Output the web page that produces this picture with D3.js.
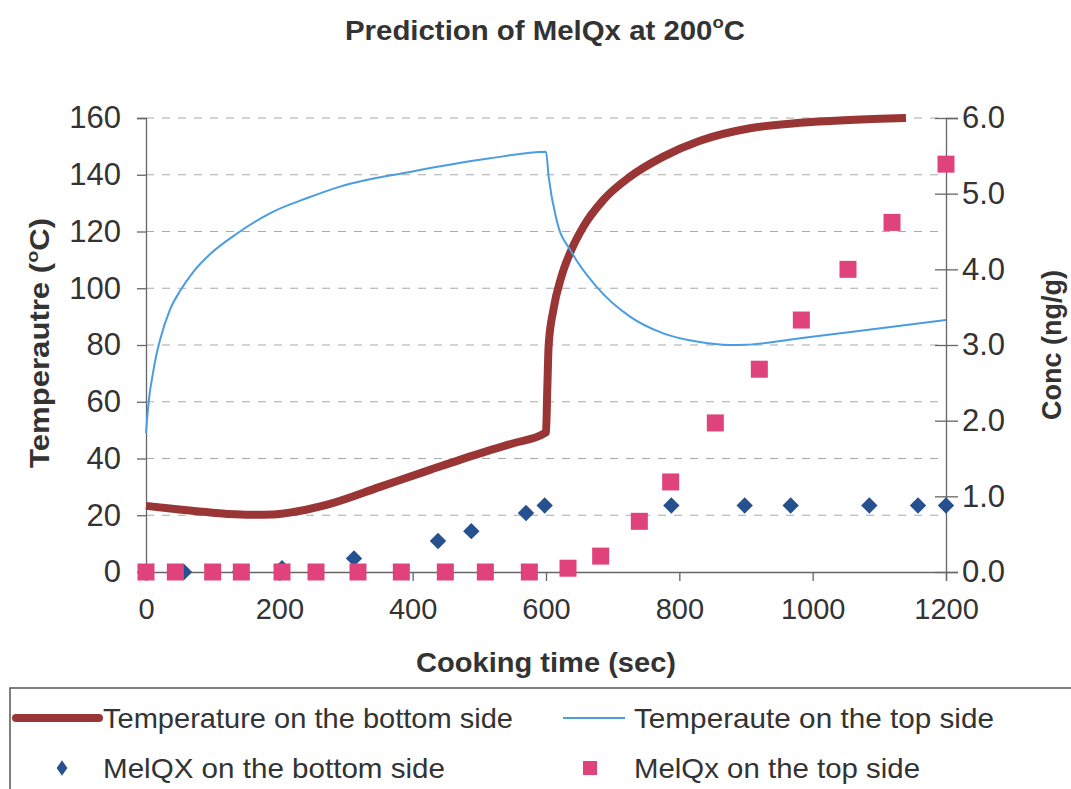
<!DOCTYPE html>
<html>
<head>
<meta charset="utf-8">
<script src="https://cdn.jsdelivr.net/npm/d3@7"></script>
<style>
  body { margin: 0; background: #fff; }
  svg { display: block; font-family: "Liberation Sans", Arial, sans-serif; }
</style>
</head>
<body>
<svg id="chart" width="1071" height="789"></svg>
<script>
// temperature curves: [time (sec), temperature (°C)]
const bottomTemp = [
    [0, 23.3], [50, 22], [100, 20.9], [150, 20.2], [190, 20.3], [230, 21.5],
    [276, 24], [351, 30], [426, 36], [501, 41.8], [550, 45.3], [598, 48.9],
    [600, 49.3], [602, 65], [604, 80], [611, 92.3], [623, 104], [638, 113.5],
    [656, 121.7], [686, 131.1], [726, 139.3], [776, 146.4], [831, 152],
    [906, 156.4], [981, 158.3], [1056, 159.3], [1140, 160]
];
const topTemp = [
    [0, 49], [2, 55], [5, 62], [10, 69.5], [16, 77], [21, 81.8], [36, 92.5],
    [51, 99], [71, 105.8], [96, 112], [136, 119.2], [191, 127], [241, 131.7],
    [291, 135.8], [396, 141], [516, 145.8], [600, 148.1], [604, 139.3],
    [616, 124], [638, 112.9], [676, 100.5], [726, 90], [776, 84.1], [826, 81.2],
    [876, 80], [900, 80.1], [981, 82.4], [1081, 85.3], [1200, 88.8]
];

// MeIQx concentration: [time (sec), conc (ng/g)]
const bottomConc = [
    [0, 0], [57, 0], [141, 0], [204, 0.05], [312, 0.18], [438, 0.41],
    [488, 0.54], [570, 0.78], [598, 0.88], [788, 0.88], [898, 0.88],
    [967, 0.88], [1085, 0.88], [1158, 0.88], [1200, 0.88]
];
const topConc = [
    [0, 0], [44, 0], [100, 0], [143, 0], [204, 0], [255, 0], [318, 0],
    [383, 0], [449, 0], [509, 0], [575, 0], [633, 0.05], [682, 0.21],
    [740, 0.67], [787, 1.19], [854, 1.97], [920, 2.68], [983, 3.33],
    [1053, 4.0], [1119, 4.62], [1200, 5.39]
];

const xTicks = [0, 200, 400, 600, 800, 1000, 1200];
const tempTicks = [0, 20, 40, 60, 80, 100, 120, 140, 160];
const concTicks = [0, 1, 2, 3, 4, 5, 6];

const COLORS = {
    bottomLine: '#993535',
    topLine: '#4a9de0',
    diamond: '#27508f',
    square: '#e0437b',
    text: '#333333',
    axis: '#666666',
    grid: '#aaaaaa'
};

const svg = d3.select('#chart');
const margin = { left: 146, right: 125, top: 118, bottom: 217 };
const width = 1071 - margin.left - margin.right;
const height = 789 - margin.top - margin.bottom;

const x = d3.scaleLinear().domain([0, 1200]).range([margin.left, margin.left + width]);
const yT = d3.scaleLinear().domain([0, 160]).range([margin.top + height, margin.top]);
const yC = d3.scaleLinear().domain([0, 6]).range([margin.top + height, margin.top]);

// title
const title = svg.append('text')
    .attr('x', 545)
    .attr('y', 40)
    .attr('text-anchor', 'middle')
    .attr('font-size', 27)
    .attr('font-weight', 'bold')
    .attr('fill', COLORS.text)
    .attr('textLength', 400)
    .attr('lengthAdjust', 'spacingAndGlyphs');
title.append('tspan').text('Prediction of MelQx at 200');
title.append('tspan').attr('font-size', 17).attr('dy', -12).text('o');
title.append('tspan').attr('dy', 12).text('C');

// gridlines (dashed, one per temperature tick)
svg.append('g')
    .selectAll('line')
    .data(tempTicks.filter(d => d > 0))
    .join('line')
    .attr('x1', x(0))
    .attr('x2', x(1200))
    .attr('y1', d => yT(d))
    .attr('y2', d => yT(d))
    .attr('stroke', COLORS.grid)
    .attr('stroke-width', 1.2)
    .attr('stroke-dasharray', '8,8');

const styleTicks = (g, size) => {
    g.select('.domain').attr('stroke', COLORS.axis).attr('stroke-width', 1.3);
    g.selectAll('.tick line').attr('stroke', COLORS.axis).attr('stroke-width', 1.3);
    g.selectAll('.tick text')
        .attr('font-size', size)
        .attr('fill', COLORS.text)
        .attr('font-family', '"Liberation Sans", Arial, sans-serif');
};

// left axis
const leftAxis = svg.append('g')
    .attr('transform', `translate(${x(0)},0)`)
    .call(d3.axisLeft(yT).tickValues(tempTicks).tickSize(9).tickPadding(16));
styleTicks(leftAxis, 31);

// right axis, ticks crossing the line
const rightAxis = svg.append('g')
    .attr('transform', `translate(${x(1200)},0)`)
    .call(d3.axisRight(yC).tickValues(concTicks).tickFormat(d3.format('.1f')).tickSize(12).tickPadding(4));
styleTicks(rightAxis, 31);
rightAxis.selectAll('.tick line').attr('x1', -11);

// bottom axis
const bottomAxis = svg.append('g')
    .attr('transform', `translate(0,${yT(0)})`)
    .call(d3.axisBottom(x).tickValues(xTicks).tickFormat(d3.format('d')).tickSize(9).tickPadding(17));
styleTicks(bottomAxis, 29);

// axis titles
svg.append('text')
    .attr('x', 546)
    .attr('y', 672)
    .attr('text-anchor', 'middle')
    .attr('font-size', 27)
    .attr('font-weight', 'bold')
    .attr('fill', COLORS.text)
    .attr('textLength', 260)
    .attr('lengthAdjust', 'spacingAndGlyphs')
    .text('Cooking time (sec)');

const yTitle = svg.append('text')
    .attr('transform', 'translate(49,343) rotate(-90)')
    .attr('text-anchor', 'middle')
    .attr('font-size', 27)
    .attr('font-weight', 'bold')
    .attr('fill', COLORS.text)
    .attr('textLength', 250)
    .attr('lengthAdjust', 'spacingAndGlyphs');
yTitle.append('tspan').text('Temperautre  (');
yTitle.append('tspan').attr('font-size', 17).attr('dy', -11).text('o');
yTitle.append('tspan').attr('dy', 11).text('C)');

svg.append('text')
    .attr('transform', 'translate(1061,345) rotate(-90)')
    .attr('text-anchor', 'middle')
    .attr('font-size', 27)
    .attr('font-weight', 'bold')
    .attr('fill', COLORS.text)
    .attr('textLength', 150)
    .attr('lengthAdjust', 'spacingAndGlyphs')
    .text('Conc (ng/g)');

// temperature lines
const line = d3.line()
    .x(d => x(d[0]))
    .y(d => yT(d[1]))
    .curve(d3.curveMonotoneX);

svg.append('path')
    .datum(bottomTemp)
    .attr('d', line)
    .attr('fill', 'none')
    .attr('stroke', COLORS.bottomLine)
    .attr('stroke-width', 8)
    .attr('stroke-linejoin', 'round');

svg.append('path')
    .datum(topTemp)
    .attr('d', line)
    .attr('fill', 'none')
    .attr('stroke', COLORS.topLine)
    .attr('stroke-width', 2);

// concentration markers
const diamondSym = d3.symbol().type(d3.symbolSquare).size(135);

svg.append('g')
    .selectAll('path')
    .data(bottomConc)
    .join('path')
    .attr('d', diamondSym)
    .attr('transform', d => `translate(${x(d[0])},${yC(d[1])}) rotate(45)`)
    .attr('fill', COLORS.diamond);

svg.append('g')
    .selectAll('rect')
    .data(topConc)
    .join('rect')
    .attr('x', d => x(d[0]) - 8.5)
    .attr('y', d => yC(d[1]) - 8.5)
    .attr('width', 17)
    .attr('height', 17)
    .attr('fill', COLORS.square);

// legend
const legend = svg.append('g');
legend.append('rect')
    .attr('x', 10)
    .attr('y', 688)
    .attr('width', 1075)
    .attr('height', 120)
    .attr('fill', 'none')
    .attr('stroke', '#555')
    .attr('stroke-width', 1.5);

const legendItems = [
    { label: 'Temperature on the bottom side', type: 'thick', lx: 16, tx: 103, y: 718, w: 410 },
    { label: 'Temperaute on the top side', type: 'thin', lx: 563, tx: 634, y: 718, w: 360 },
    { label: 'MelQX on the bottom side', type: 'diamond', lx: 62, tx: 103, y: 768, w: 342 },
    { label: 'MelQx on the top side', type: 'square', lx: 590, tx: 634, y: 768, w: 286 }
];

legendItems.forEach(item => {
    if (item.type === 'thick') {
        legend.append('line')
            .attr('x1', item.lx).attr('x2', 99)
            .attr('y1', item.y).attr('y2', item.y)
            .attr('stroke', COLORS.bottomLine)
            .attr('stroke-width', 8)
            .attr('stroke-linecap', 'round');
    } else if (item.type === 'thin') {
        legend.append('line')
            .attr('x1', item.lx).attr('x2', 625)
            .attr('y1', item.y).attr('y2', item.y)
            .attr('stroke', COLORS.topLine)
            .attr('stroke-width', 2);
    } else if (item.type === 'diamond') {
        legend.append('path')
            .attr('d', d3.symbol().type(d3.symbolSquare).size(90))
            .attr('transform', `translate(${item.lx},${item.y}) scale(0.8,1.15) rotate(45)`)
            .attr('fill', COLORS.diamond);
    } else {
        legend.append('rect')
            .attr('x', item.lx - 7).attr('y', item.y - 7)
            .attr('width', 14).attr('height', 14)
            .attr('fill', COLORS.square);
    }
    legend.append('text')
        .attr('x', item.tx)
        .attr('y', item.y)
        .attr('dominant-baseline', 'central')
        .attr('font-size', 28)
        .attr('fill', COLORS.text)
        .attr('textLength', item.w)
        .attr('lengthAdjust', 'spacingAndGlyphs')
        .text(item.label);
});
</script>
</body>
</html>
